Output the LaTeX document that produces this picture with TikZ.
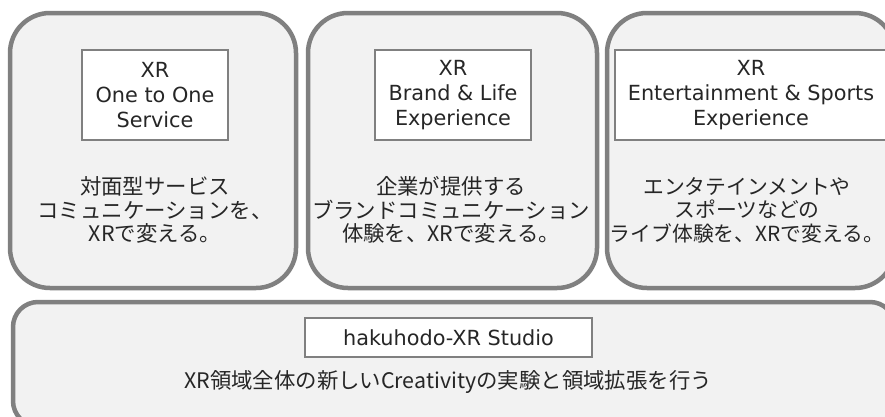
\documentclass[tikz,border=0pt]{standalone}
\usepackage{fontspec}
\setmainfont{DejaVu Sans}
\newfontfamily\jp{Noto Sans CJK JP}
\definecolor{edge}{HTML}{808080}
\definecolor{panel}{HTML}{F2F2F2}
\begin{document}
\begin{tikzpicture}[x=1pt,y=-1pt,
  outerbox/.style={draw=edge,line width=4.5pt,fill=panel,rounded corners=40pt},
  lowbox/.style={draw=edge,line width=4.5pt,fill=panel,rounded corners=25pt},
  titlebox/.style={draw=edge,line width=2.6pt,fill=white,inner sep=0pt,align=center,
    font=\fontsize{20.8}{25}\selectfont,text=black!85},
  desc/.style={align=center,inner sep=0pt,font=\jp\fontsize{21.4}{23.5}\selectfont,text=black!85}]
\useasboundingbox (0,0) rectangle (885,416);
\fill[white] (0,0) rectangle (885,416);
% outer panels
\node[outerbox,minimum width=286pt,minimum height=275pt] (p1) at (153,150.5) {};
\node[outerbox,minimum width=289pt,minimum height=275pt] (p2) at (452.5,150.5) {};
\node[outerbox,minimum width=288pt,minimum height=275pt] (p3) at (751,150.5) {};
\node[lowbox,minimum width=882pt,minimum height=124pt] (p4) at (454,364) {};
% title boxes
\node[titlebox,minimum width=146pt,minimum height=90pt] (t1) at (155,95) {XR\\One to One\\Service};
\node[titlebox,minimum width=156pt,minimum height=90pt] (t2) at (453,95) {XR\\Brand \& Life\\Experience};
\node[titlebox,minimum width=272pt,minimum height=90pt] (t3) at (751,95) {XR\\Entertainment \& Sports\\Experience};
\node[titlebox,minimum width=287pt,minimum height=39pt] (t4) at (448.5,337.5) {hakuhodo-XR Studio};
% descriptions
\node[desc] (d1) at (155,210) {対面型サービス\\コミュニケーションを、\\XRで変える。};
\node[desc] (d2) at (451,210) {企業が提供する\\ブランドコミュニケーション\\体験を、XRで変える。};
\node[desc,font=\jp\fontsize{20.8}{23.5}\selectfont] (d3) at (747,210) {エンタテインメントや\\スポーツなどの\\ライブ体験を、XRで変える。};
\node[desc] (d4) at (448,382) {XR領域全体の新しいCreativityの実験と領域拡張を行う};
\end{tikzpicture}
\end{document}
